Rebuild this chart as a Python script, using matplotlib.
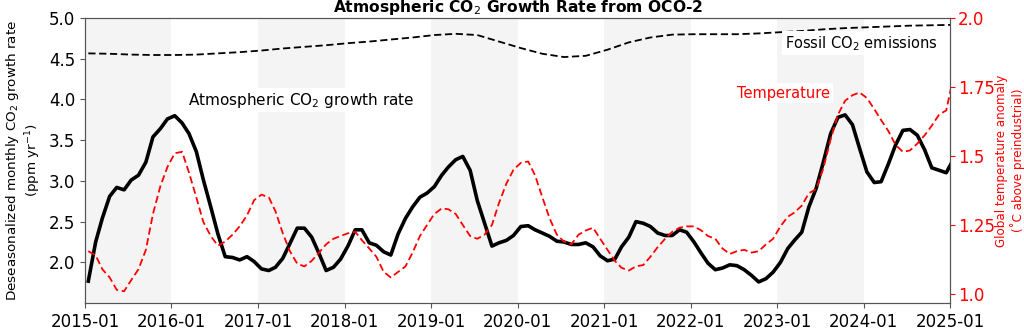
import matplotlib
matplotlib.use("Agg")
import matplotlib.pyplot as plt
import matplotlib.dates as mdates
import pandas as pd

# monthly CO2 growth rate (ppm/yr), mid-month from 2015-01 to 2025-01
co2_growth = [1.77, 2.25, 2.54, 2.81, 2.92, 2.89, 3.01, 3.07, 3.23, 3.54, 3.64, 3.76,
              3.80, 3.71, 3.58, 3.36, 3.01, 2.68, 2.35, 2.07, 2.06, 2.03, 2.07, 2.01,
              1.92, 1.90, 1.94, 2.05, 2.23, 2.42, 2.42, 2.31, 2.11, 1.90, 1.94, 2.04,
              2.20, 2.40, 2.40, 2.24, 2.21, 2.13, 2.09, 2.35, 2.54, 2.68, 2.80, 2.85,
              2.93, 3.07, 3.17, 3.26, 3.30, 3.13, 2.76, 2.48, 2.20, 2.24, 2.27, 2.33,
              2.44, 2.45, 2.40, 2.36, 2.32, 2.26, 2.25, 2.22, 2.22, 2.24, 2.19, 2.08,
              2.02, 2.04, 2.19, 2.31, 2.50, 2.48, 2.44, 2.36, 2.33, 2.33, 2.40, 2.37,
              2.25, 2.11, 1.99, 1.91, 1.93, 1.97, 1.96, 1.91, 1.84, 1.76, 1.80, 1.88,
              2.00, 2.17, 2.27, 2.37, 2.68, 2.91, 3.23, 3.58, 3.78, 3.81, 3.69, 3.40,
              3.11, 2.98, 2.99, 3.21, 3.44, 3.62, 3.63, 3.56, 3.38, 3.16, 3.13, 3.10,
              3.27]

# global temperature anomaly (deg C above preindustrial), same months
temp = [1.155, 1.14, 1.09, 1.06, 1.015, 1.01, 1.05, 1.09, 1.16, 1.29, 1.39, 1.46,
        1.51, 1.515, 1.44, 1.35, 1.26, 1.21, 1.175, 1.19, 1.215, 1.245, 1.285, 1.34,
        1.36, 1.35, 1.30, 1.22, 1.155, 1.11, 1.10, 1.12, 1.15, 1.18, 1.20, 1.21,
        1.22, 1.225, 1.195, 1.165, 1.135, 1.08, 1.06, 1.08, 1.10, 1.15, 1.21, 1.25,
        1.29, 1.31, 1.307, 1.29, 1.25, 1.21, 1.20, 1.215, 1.25, 1.33, 1.40, 1.45,
        1.475, 1.48, 1.43, 1.35, 1.275, 1.215, 1.19, 1.18, 1.215, 1.23, 1.24, 1.20,
        1.16, 1.12, 1.095, 1.085, 1.10, 1.105, 1.135, 1.17, 1.20, 1.225, 1.24, 1.245,
        1.245, 1.23, 1.21, 1.20, 1.165, 1.145, 1.155, 1.16, 1.15, 1.155, 1.18, 1.20,
        1.245, 1.28, 1.295, 1.32, 1.365, 1.38, 1.455, 1.56, 1.65, 1.70, 1.72, 1.73,
        1.71, 1.67, 1.63, 1.59, 1.54, 1.515, 1.52, 1.545, 1.575, 1.61, 1.65, 1.665,
        1.79]

# fossil emissions curve (on the left scale), every 3 months
fossil = [4.565, 4.56, 4.55, 4.545, 4.545, 4.55, 4.565, 4.58, 4.60, 4.625, 4.645, 4.665,
          4.69, 4.71, 4.735, 4.76, 4.79, 4.805, 4.79, 4.71, 4.63, 4.56, 4.52, 4.535,
          4.61, 4.70, 4.76, 4.795, 4.80, 4.80, 4.80, 4.81, 4.825, 4.84, 4.86, 4.875,
          4.885, 4.895, 4.905, 4.91, 4.915]

shaded_years = [2015, 2017, 2019, 2021, 2023]

dates = pd.date_range("2015-01-01", periods=len(co2_growth), freq="MS") + pd.Timedelta(days=14)
fossil_dates = pd.date_range("2015-01-01", periods=len(fossil), freq="3MS") + pd.Timedelta(days=14)

fig = plt.figure(figsize=(10.24, 3.32), dpi=100)
ax = fig.add_axes([0.083, 0.087, 0.845, 0.859])

for yr in shaded_years:
    ax.axvspan(pd.Timestamp(f"{yr}-01-01"), pd.Timestamp(f"{yr + 1}-01-01"),
               color="#f4f4f4", zorder=0, lw=0)

ax.plot(dates, co2_growth, color="black", lw=2.6, zorder=3)
ax.plot(fossil_dates, fossil, color="black", lw=1.3, ls=(0, (4, 2)), zorder=3)

ax.set_xlim(pd.Timestamp("2015-01-01"), pd.Timestamp("2025-01-01"))
ax.set_ylim(1.5, 5.0)
ax.set_yticks([2.0, 2.5, 3.0, 3.5, 4.0, 4.5, 5.0])
ax.xaxis.set_major_locator(mdates.YearLocator())
ax.xaxis.set_major_formatter(mdates.DateFormatter("%Y-%m"))
ax.tick_params(labelsize=12)
ax.set_ylabel("Deseasonalized monthly CO$_2$ growth rate\n(ppm yr$^{-1}$)", fontsize=9.7)
ax.set_title("Atmospheric CO$_2$ Growth Rate from OCO-2", fontsize=11.2,
             fontweight="bold", pad=4)

ax.text(pd.Timestamp("2016-03-10"), 3.99, "Atmospheric CO$_2$ growth rate", fontsize=11,
        ha="left", va="center", zorder=4,
        bbox=dict(facecolor="white", edgecolor="none", pad=2))
ax.text(pd.Timestamp("2024-11-10"), 4.69, "Fossil CO$_2$ emissions", fontsize=10.5,
        ha="right", va="center", zorder=4,
        bbox=dict(facecolor="white", edgecolor="none", pad=2))

ax2 = ax.twinx()
ax2.plot(dates, temp, color="red", lw=1.3, ls=(0, (4, 2)))
ax2.set_ylim(0.967, 2.0)
ax2.set_yticks([1.0, 1.25, 1.5, 1.75, 2.0])
ax2.set_yticklabels(["1.0", "1.25", "1.5", "1.75", "2.0"])
ax2.tick_params(colors="red", labelsize=12, pad=2)
ax2.set_ylabel("Global temperature anomaly\n(˚C above preindustrial)", color="red",
               fontsize=8.6, linespacing=1.2, labelpad=0)
ax2.text(pd.Timestamp("2022-07-15"), 1.728, "Temperature", color="red", fontsize=10.5,
         ha="left", va="center",
         bbox=dict(facecolor="white", edgecolor="none", pad=2))

for a in (ax, ax2):
    for s in a.spines.values():
        s.set_color("#555555")
ax.tick_params(axis="both", color="#555555")

fig.savefig("out.png", dpi=100)
